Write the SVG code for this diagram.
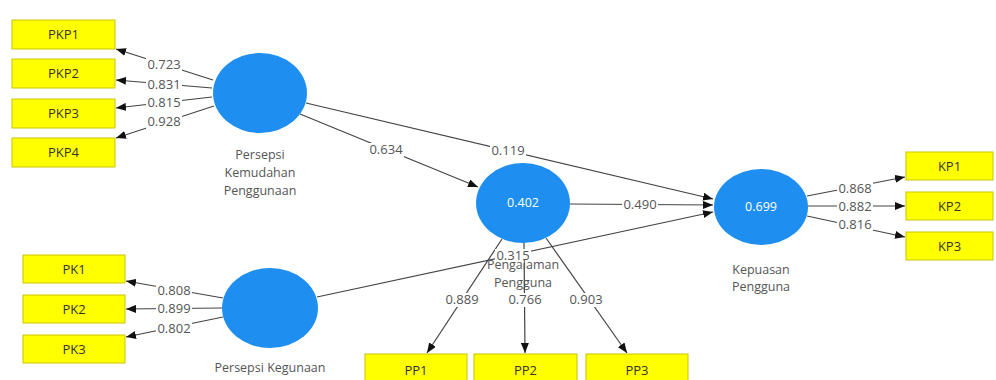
<svg xmlns="http://www.w3.org/2000/svg" width="996" height="380" viewBox="0 0 996 380">
<defs>
<marker id="ah" viewBox="0 0 10 8" refX="10" refY="4" markerWidth="10" markerHeight="8" markerUnits="userSpaceOnUse" orient="auto">
<path d="M0,0 L10,4 L0,8 Z" fill="#111"/>
</marker>
<style>
.box{fill:#ffff00;stroke:#c9c400;stroke-width:1}
.btx{font-family:"Open Sans","Noto Sans",sans-serif;font-size:13px;fill:#333;text-anchor:middle}
.lv{fill:#1e8ff0}
.ltx{font-family:"Open Sans","Noto Sans",sans-serif;font-size:12.5px;fill:#555;text-anchor:middle}
.vtx{font-family:"Open Sans","Noto Sans",sans-serif;font-size:12.5px;fill:#ffffff;text-anchor:middle}
.cn{stroke:#444;stroke-width:1.2;fill:none;marker-end:url(#ah)}
.bg{fill:#ffffff}
.lb{font-family:"Open Sans","Noto Sans",sans-serif;font-size:13px;fill:#555;text-anchor:middle}
</style>
</defs>
<rect width="996" height="380" fill="#ffffff"/>
<g id="connectors">
<line class="cn" x1="213" y1="80" x2="116" y2="49"/>
<line class="cn" x1="212" y1="88" x2="116" y2="80"/>
<line class="cn" x1="212" y1="97" x2="116" y2="108"/>
<line class="cn" x1="214" y1="106" x2="116" y2="138"/>
<line class="cn" x1="300" y1="114" x2="478" y2="187"/>
<line class="cn" x1="306" y1="103" x2="713" y2="199"/>
<line class="cn" x1="570" y1="204" x2="713" y2="205"/>
<line class="cn" x1="502" y1="239" x2="427" y2="353"/>
<line class="cn" x1="524" y1="243" x2="525" y2="353"/>
<line class="cn" x1="546" y1="238" x2="627" y2="353"/>
<line class="cn" x1="317" y1="297" x2="713" y2="212"/>
<line class="cn" x1="223" y1="298" x2="126" y2="281"/>
<line class="cn" x1="222" y1="308" x2="126" y2="309"/>
<line class="cn" x1="223" y1="317" x2="126" y2="337"/>
<line class="cn" x1="807" y1="196" x2="905" y2="177"/>
<line class="cn" x1="808" y1="206" x2="905" y2="206"/>
<line class="cn" x1="807" y1="216" x2="905" y2="237"/>
<rect class="bg" x="146" y="58" width="36" height="14"/><text class="lb" x="164" y="69">0.723</text>
<rect class="bg" x="146" y="78" width="36" height="14"/><text class="lb" x="164" y="89">0.831</text>
<rect class="bg" x="146" y="96" width="36" height="14"/><text class="lb" x="164" y="107">0.815</text>
<rect class="bg" x="146" y="115" width="36" height="14"/><text class="lb" x="164" y="126">0.928</text>
<rect class="bg" x="368" y="143" width="36" height="14"/><text class="lb" x="386" y="154">0.634</text>
<rect class="bg" x="490" y="144" width="36" height="14"/><text class="lb" x="508" y="155">0.119</text>
<rect class="bg" x="622" y="198" width="36" height="14"/><text class="lb" x="640" y="209">0.490</text>
<rect class="bg" x="495" y="249" width="36" height="14"/><text class="lb" x="513" y="260">0.315</text>
<rect class="bg" x="444" y="293" width="36" height="14"/><text class="lb" x="462" y="304">0.889</text>
<rect class="bg" x="507" y="293" width="36" height="14"/><text class="lb" x="525" y="304">0.766</text>
<rect class="bg" x="568" y="293" width="36" height="14"/><text class="lb" x="586" y="304">0.903</text>
<rect class="bg" x="156" y="284" width="36" height="14"/><text class="lb" x="174" y="295">0.808</text>
<rect class="bg" x="156" y="302" width="36" height="14"/><text class="lb" x="174" y="313">0.899</text>
<rect class="bg" x="156" y="322" width="36" height="14"/><text class="lb" x="174" y="333">0.802</text>
<rect class="bg" x="837" y="182" width="36" height="14"/><text class="lb" x="855" y="193">0.868</text>
<rect class="bg" x="837" y="200" width="36" height="14"/><text class="lb" x="855" y="211">0.882</text>
<rect class="bg" x="837" y="218" width="36" height="14"/><text class="lb" x="855" y="229">0.816</text>
</g>
<g id="PKP1"><rect class="box" x="12" y="20" width="103" height="29"/><text class="btx" x="63.5" y="39">PKP1</text></g>
<g id="PKP2"><rect class="box" x="12" y="59" width="103" height="29"/><text class="btx" x="63.5" y="78">PKP2</text></g>
<g id="PKP3"><rect class="box" x="12" y="99" width="103" height="29"/><text class="btx" x="63.5" y="118">PKP3</text></g>
<g id="PKP4"><rect class="box" x="12" y="138" width="103" height="29"/><text class="btx" x="63.5" y="157">PKP4</text></g>
<g id="PK1"><rect class="box" x="23" y="255" width="102" height="28"/><text class="btx" x="74" y="274">PK1</text></g>
<g id="PK2"><rect class="box" x="23" y="295" width="102" height="28"/><text class="btx" x="74" y="314">PK2</text></g>
<g id="PK3"><rect class="box" x="23" y="335" width="102" height="28"/><text class="btx" x="74" y="354">PK3</text></g>
<g id="PP1"><rect class="box" x="365" y="354" width="102" height="32"/><text class="btx" x="416" y="375">PP1</text></g>
<g id="PP2"><rect class="box" x="474" y="354" width="103" height="32"/><text class="btx" x="525.5" y="375">PP2</text></g>
<g id="PP3"><rect class="box" x="586" y="354" width="102" height="32"/><text class="btx" x="637" y="375">PP3</text></g>
<g id="KP1"><rect class="box" x="906" y="152" width="87" height="28"/><text class="btx" x="949.5" y="171">KP1</text></g>
<g id="KP2"><rect class="box" x="906" y="192" width="87" height="28"/><text class="btx" x="949.5" y="211">KP2</text></g>
<g id="KP3"><rect class="box" x="906" y="232" width="87" height="28"/><text class="btx" x="949.5" y="251">KP3</text></g>
<g id="PersepsiKemudahanPenggunaan">
<ellipse class="lv" cx="260" cy="93" rx="47" ry="40"/>
<text class="ltx" x="260" y="159">Persepsi</text>
<text class="ltx" x="260" y="177">Kemudahan</text>
<text class="ltx" x="260" y="195">Penggunaan</text>
</g>
<g id="PengalamanPengguna">
<ellipse class="lv" cx="523" cy="203" rx="47" ry="40"/>
<text class="vtx" x="523" y="207">0.402</text>
<text class="ltx" x="523" y="269">Pengalaman</text>
<text class="ltx" x="523" y="287">Pengguna</text>
</g>
<g id="PersepsiKegunaan">
<ellipse class="lv" cx="270" cy="308" rx="48" ry="40"/>
<text class="ltx" x="270" y="372">Persepsi Kegunaan</text>
</g>
<g id="KepuasanPengguna">
<ellipse class="lv" cx="761" cy="207" rx="47" ry="38"/>
<text class="vtx" x="761" y="211">0.699</text>
<text class="ltx" x="761" y="274">Kepuasan</text>
<text class="ltx" x="761" y="291">Pengguna</text>
</g>
</svg>
